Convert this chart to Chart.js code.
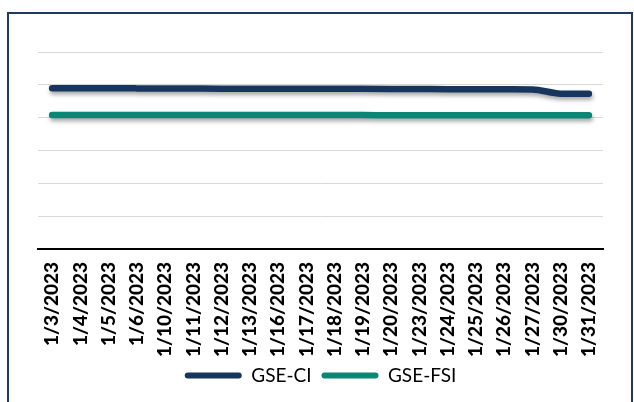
<!DOCTYPE html>
<html>
<head>
<meta charset="utf-8">
<script src="https://cdn.jsdelivr.net/npm/chart.js@4/dist/chart.umd.min.js"></script>
<style>
  html, body { margin: 0; padding: 0; background: #ffffff; }
  #wrap { position: relative; width: 634px; height: 402px; }
</style>
</head>
<body>
<div id="wrap"><canvas id="c" width="634" height="402"></canvas></div>
<script>
// Trading days, January 2023
const dates = ['1/3/2023','1/4/2023','1/5/2023','1/6/2023','1/10/2023','1/11/2023','1/12/2023','1/13/2023',
  '1/16/2023','1/17/2023','1/18/2023','1/19/2023','1/20/2023','1/23/2023','1/24/2023','1/25/2023',
  '1/26/2023','1/27/2023','1/30/2023','1/31/2023'];

// Index closing levels
const gseCI  = [2448, 2447, 2447, 2446, 2444, 2443, 2442, 2442, 2441, 2440, 2440, 2439, 2438, 2436, 2434, 2433, 2432, 2430, 2366, 2364];
const gseFSI = [2042, 2042, 2041, 2041, 2041, 2040, 2040, 2040, 2040, 2039, 2039, 2039, 2038, 2038, 2038, 2038, 2037, 2037, 2037, 2037];

const NAVY = '#17365d';
const TEAL = '#0b8574';

// Frame around the whole chart
const framePlugin = {
  id: 'frame',
  beforeDraw(chart) {
    const ctx = chart.ctx;
    ctx.save();
    ctx.fillStyle = '#ffffff';
    ctx.fillRect(0, 0, chart.width, chart.height);
    ctx.strokeStyle = '#1f3a60';
    ctx.lineWidth = 2;
    ctx.strokeRect(8, 13, 624, 400);
    ctx.restore();
  }
};

// Soft drop shadow under the series lines
const shadowPlugin = {
  id: 'lineShadow',
  beforeDatasetsDraw(chart) {
    const ctx = chart.ctx;
    ctx.save();
    ctx.shadowColor = 'rgba(0,0,0,0.35)';
    ctx.shadowBlur = 4;
    ctx.shadowOffsetX = 1;
    ctx.shadowOffsetY = 3;
  },
  afterDatasetsDraw(chart) {
    chart.ctx.restore();
  }
};

new Chart(document.getElementById('c'), {
  type: 'line',
  data: {
    labels: dates,
    datasets: [
      { label: 'GSE-CI', data: gseCI, borderColor: NAVY, backgroundColor: NAVY,
        borderWidth: 6.5, borderCapStyle: 'round', borderJoinStyle: 'round',
        pointRadius: 0, cubicInterpolationMode: 'monotone' },
      { label: 'GSE-FSI', data: gseFSI, borderColor: TEAL, backgroundColor: TEAL,
        borderWidth: 6.5, borderCapStyle: 'round', borderJoinStyle: 'round',
        pointRadius: 0, cubicInterpolationMode: 'monotone' }
    ]
  },
  options: {
    responsive: false,
    animation: false,
    devicePixelRatio: 1,
    layout: { padding: { left: 38, right: 31, top: 52, bottom: 7 } },
    plugins: {
      tooltip: { enabled: false },
      legend: {
        position: 'bottom',
        labels: {
          boxWidth: 57,
          boxHeight: 6,
          useBorderRadius: true,
          borderRadius: 3,
          padding: 10,
          color: '#000000',
          font: { family: 'Lato', size: 19 },
          generateLabels(chart) {
            return chart.data.datasets.map((ds, i) => ({
              text: ds.label,
              fillStyle: ds.borderColor,
              strokeStyle: ds.borderColor,
              lineWidth: 0,
              borderRadius: 3,
              hidden: false,
              datasetIndex: i,
              fontColor: '#000000'
            }));
          }
        }
      }
    },
    scales: {
      x: {
        offset: true,
        grid: { display: false, drawTicks: false },
        border: { display: true, color: '#000000', width: 2 },
        ticks: {
          autoSkip: false,
          minRotation: 90,
          maxRotation: 90,
          padding: 13,
          color: '#000000',
          font: { family: 'Lato', size: 19, weight: '900' }
        },
        afterFit(s) { s.height = 107; }
      },
      y: {
        min: 0,
        max: 3000,
        ticks: { display: false, stepSize: 500 },
        border: { display: false },
        grid: { color: '#d9d9d9', lineWidth: 1, drawTicks: false },
        afterFit(s) { s.width = 0; }
      }
    }
  },
  plugins: [framePlugin, shadowPlugin]
});
</script>
</body>
</html>
